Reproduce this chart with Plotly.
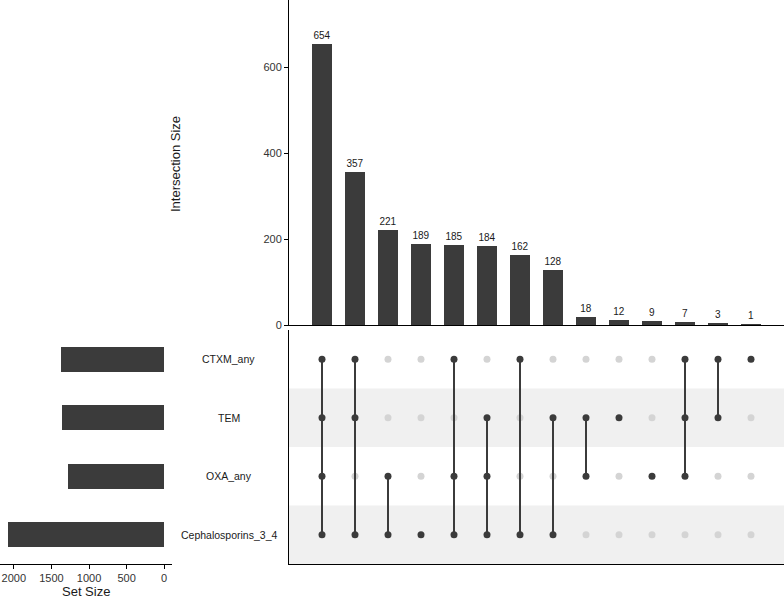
import plotly.graph_objects as go

# ---- data ----
set_names = ["Cephalosporins_3_4", "OXA_any", "TEM", "CTXM_any"]   # bottom -> top rows
set_sizes = [2080, 1278, 1363, 1369]
intersection_sizes = [654, 357, 221, 189, 185, 184, 162, 128, 18, 12, 9, 7, 3, 1]
intersection_members = [
    ["CTXM_any", "TEM", "OXA_any", "Cephalosporins_3_4"],
    ["CTXM_any", "TEM", "Cephalosporins_3_4"],
    ["OXA_any", "Cephalosporins_3_4"],
    ["Cephalosporins_3_4"],
    ["CTXM_any", "OXA_any", "Cephalosporins_3_4"],
    ["TEM", "OXA_any", "Cephalosporins_3_4"],
    ["CTXM_any", "Cephalosporins_3_4"],
    ["TEM", "Cephalosporins_3_4"],
    ["TEM", "OXA_any"],
    ["TEM"],
    ["OXA_any"],
    ["CTXM_any", "TEM", "OXA_any"],
    ["CTXM_any", "TEM"],
    ["CTXM_any"],
]
size_ticks = [0, 500, 1000, 1500, 2000]
inter_ticks = [0, 200, 400, 600]

DARK = "#3b3b3b"
LIGHT_DOT = "#d4d4d4"
STRIPE = "#f0f0f0"
FONT = "Liberation Sans, Arial, sans-serif"
W, H = 784, 602

def px_x(p):
    return p / W

def px_y(p):  # pixel from top -> paper fraction from bottom
    return 1 - p / H

cols = list(range(len(intersection_sizes)))
row_of = {n: i for i, n in enumerate(set_names)}

fig = go.Figure()

# top intersection bars
fig.add_trace(go.Bar(
    x=cols, y=intersection_sizes, width=0.6,
    marker=dict(color=DARK, line=dict(width=0)),
    text=[str(v) for v in intersection_sizes], textposition="outside",
    textfont=dict(size=10, color="#1a1a1a", family=FONT),
    cliponaxis=False, xaxis="x", yaxis="y", showlegend=False, hoverinfo="skip",
))

# matrix dots and connectors
ix, iy, ax, ay = [], [], [], []
lx, ly = [], []
for c, members in enumerate(intersection_members):
    rows = [row_of[m] for m in members]
    for r in range(len(set_names)):
        if r in rows:
            ax.append(c); ay.append(r)
        else:
            ix.append(c); iy.append(r)
    if len(rows) > 1:
        lx += [c, c, None]
        ly += [min(rows), max(rows), None]

fig.add_trace(go.Scatter(x=ix, y=iy, mode="markers",
                         marker=dict(size=7, color=LIGHT_DOT),
                         xaxis="x2", yaxis="y2", showlegend=False, hoverinfo="skip"))
fig.add_trace(go.Scatter(x=lx, y=ly, mode="lines",
                         line=dict(width=2, color=DARK),
                         xaxis="x2", yaxis="y2", showlegend=False, hoverinfo="skip"))
fig.add_trace(go.Scatter(x=ax, y=ay, mode="markers",
                         marker=dict(size=7, color=DARK),
                         xaxis="x2", yaxis="y2", showlegend=False, hoverinfo="skip"))

# set size bars
fig.add_trace(go.Bar(
    x=set_sizes, y=list(range(len(set_names))), orientation="h", width=0.42,
    marker=dict(color=DARK, line=dict(width=0)),
    xaxis="x3", yaxis="y3", showlegend=False, hoverinfo="skip",
))

# stripes
shapes = []
for r in range(len(set_names)):
    if r % 2 == 0:
        shapes.append(dict(type="rect", xref="x2 domain", x0=0, x1=1,
                           yref="y2", y0=r - 0.5, y1=r + 0.5,
                           fillcolor=STRIPE, line=dict(width=0), layer="below"))

annotations = []
for r, n in enumerate(set_names):
    annotations.append(dict(x=px_x(229), y=r, xref="paper", yref="y2",
                            text=n, showarrow=False, xanchor="center", yanchor="middle",
                            font=dict(size=10.5, color="#1a1a1a", family=FONT)))
annotations.append(dict(x=px_x(175), y=px_y(164), xref="paper", yref="paper",
                        text="Intersection Size", showarrow=False, textangle=-90,
                        xanchor="center", yanchor="middle",
                        font=dict(size=13, color="#1a1a1a", family=FONT)))
annotations.append(dict(x=px_x(86), y=px_y(591), xref="paper", yref="paper",
                        text="Set Size", showarrow=False,
                        xanchor="center", yanchor="middle",
                        font=dict(size=13, color="#1a1a1a", family=FONT)))

tickfont = dict(size=11, color="#333333", family=FONT)
main_dom = [px_x(289), 1.0]

fig.update_layout(
    width=W, height=H, margin=dict(l=0, r=0, t=0, b=0, autoexpand=False),
    paper_bgcolor="white", plot_bgcolor="rgba(0,0,0,0)",
    font=dict(family=FONT),
    shapes=shapes, annotations=annotations, bargap=0,
    xaxis=dict(domain=main_dom, range=[-1, 14], anchor="y",
               showticklabels=False, ticks="", showgrid=False, zeroline=False,
               showline=True, linecolor="black", linewidth=1),
    yaxis=dict(domain=[px_y(325), 1.0], range=[0, 756], anchor="x",
               tickvals=inter_ticks, ticks="outside", ticklen=4, tickcolor="black",
               tickfont=tickfont, showgrid=False, zeroline=False,
               showline=True, linecolor="black", linewidth=1),
    xaxis2=dict(domain=main_dom, range=[-1, 14], anchor="y2",
                showticklabels=False, ticks="", showgrid=False, zeroline=False,
                showline=True, linecolor="black", linewidth=1),
    yaxis2=dict(domain=[px_y(564), px_y(330)], range=[-0.5, 3.5], anchor="x2",
                showticklabels=False, ticks="", showgrid=False, zeroline=False,
                showline=True, linecolor="black", linewidth=1),
    xaxis3=dict(domain=[0, px_x(172)], range=[2184, -104], anchor="y3",
                tickvals=size_ticks, ticks="outside", ticklen=4, tickcolor="black",
                tickfont=tickfont, showgrid=False, zeroline=False,
                showline=True, linecolor="black", linewidth=1),
    yaxis3=dict(domain=[px_y(564), px_y(330)], range=[-0.5, 3.5], anchor="x3",
                showticklabels=False, ticks="", showgrid=False, zeroline=False,
                showline=False),
)

fig.write_html("out.html", config={"displayModeBar": False},
               post_script="document.body.style.margin='0';document.body.style.overflow='hidden';")
